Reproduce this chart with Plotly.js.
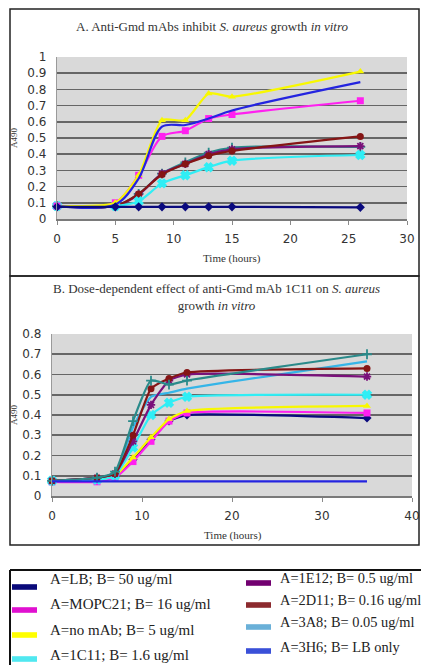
<!DOCTYPE html>
<html>
<head>
<meta charset="utf-8">
<script src="https://cdn.plot.ly/plotly-3.0.1.min.js"></script>
<style>
html,body{margin:0;padding:0;background:#fff;}
#chart{width:421px;height:665px;}
</style>
</head>
<body>
<div id="chart"></div>
<script>
// ---------- DATA ----------
const hoursA = [0, 5, 7, 9, 11, 13, 15, 26];
const hoursB = [0, 5, 7, 9, 11, 13, 15, 35];

// Panel A (antibody, A490)
const aLB      = [0.075, 0.075, 0.075, 0.075, 0.075, 0.075, 0.075, 0.072];
const aMOPC21  = [0.08, 0.10, 0.27, 0.51, 0.545, 0.62, 0.645, 0.73];
const aNoMAb   = [0.08, 0.10, 0.27, 0.61, 0.61, 0.775, 0.755, 0.91];
const a1C11    = [0.08, 0.08, 0.11, 0.22, 0.27, 0.32, 0.36, 0.395];
const a1E12    = [0.08, 0.08, 0.15, 0.28, 0.34, 0.40, 0.43, 0.45];
const a2D11    = [0.08, 0.08, 0.155, 0.275, 0.34, 0.39, 0.42, 0.51];
const a3A8     = [0.08, 0.08, 0.155, 0.28, 0.35, 0.41, 0.44, 0.445];
const a3H6     = [0.08, 0.09, 0.25, 0.57, 0.58, 0.62, 0.67, 0.845];

// Panel B (1C11 dose, A490)
const b50      = [0.075, 0.08, 0.10, 0.18, 0.28, 0.37, 0.40, 0.385];
const b16      = [0.07, 0.07, 0.09, 0.17, 0.27, 0.37, 0.41, 0.41];
const b5       = [0.075, 0.08, 0.10, 0.19, 0.29, 0.38, 0.42, 0.445];
const b1_6     = [0.075, 0.08, 0.10, 0.24, 0.40, 0.46, 0.49, 0.50];
const b0_5     = [0.075, 0.09, 0.11, 0.27, 0.45, 0.57, 0.60, 0.59];
const b0_16    = [0.075, 0.09, 0.11, 0.30, 0.53, 0.58, 0.61, 0.63];
const bExtra   = [0.075, 0.09, 0.12, 0.37, 0.57, 0.55, 0.57, 0.70];
const b0_05    = [0.075, 0.09, 0.11, 0.34, 0.49, 0.51, 0.53, 0.665];
const bLBonly  = [0.072, 0.072, 0.072, 0.072, 0.072, 0.072, 0.072, 0.072];

// Legend labels
const legendCol1 = ["A=LB; B= 50 ug/ml", "A=MOPC21; B= 16 ug/ml", "A=no mAb; B= 5 ug/ml", "A=1C11; B= 1.6 ug/ml"];
const legendCol2 = ["A=1E12; B= 0.5 ug/ml", "A=2D11; B= 0.16 ug/ml", "A=3A8; B= 0.05 ug/ml", "A=3H6; B= LB only"];

// ---------- STYLES ----------
const C = {
  navy: '#0a0a7e', magenta: '#ff20f0', yellow: '#f8f800', cyan: '#30eef5',
  purple: '#7a107a', brown: '#851515', teal: '#2a8a8a', blue: '#2424e0', sky: '#35b5e8'
};
const legColors1 = ['#0a0a7a', '#e010d0', '#ffff00', '#50e8f0'];
const legColors2 = ['#720070', '#8c2a2e', '#6ab0d8', '#3a50d8'];

function tr(x, y, name, color, symbol, xa, ya, smooth, extra) {
  const t = {
    x: x, y: y, name: name, type: 'scatter',
    mode: symbol ? 'lines+markers' : 'lines',
    xaxis: xa, yaxis: ya,
    line: {color: color, width: 2.2, shape: 'spline', smoothing: smooth},
    cliponaxis: false, showlegend: false, hoverinfo: 'skip'
  };
  if (symbol) {
    t.marker = {symbol: symbol, size: 7, color: color, line: {color: color, width: (symbol.indexOf('open') >= 0 || symbol === 'x') ? 1.8 : 0}};
  }
  return Object.assign(t, extra || {});
}

const data = [
  // Panel A
  tr(hoursA, a3A8, 'A=3A8', C.teal, 'cross-thin-open', 'x', 'y', 0.8),
  tr(hoursA, a1E12, 'A=1E12', C.purple, 'asterisk-open', 'x', 'y', 0.8),
  tr(hoursA, a2D11, 'A=2D11', C.brown, 'circle', 'x', 'y', 0.8),
  tr(hoursA, a1C11, 'A=1C11', C.cyan, 'x', 'x', 'y', 0.8),
  tr(hoursA, aMOPC21, 'A=MOPC21', C.magenta, 'square', 'x', 'y', 0.8),
  tr(hoursA, aNoMAb, 'A=no mAb', C.yellow, 'triangle-up', 'x', 'y', 0.6),
  tr(hoursA, a3H6, 'A=3H6', C.blue, null, 'x', 'y', 0.9),
  tr(hoursA, aLB, 'A=LB', C.navy, 'diamond', 'x', 'y', 0.8),
  // Panel B
  tr(hoursB, b50, 'B= 50 ug/ml', C.navy, 'diamond', 'x2', 'y2', 0.5),
  tr(hoursB, b16, 'B= 16 ug/ml', C.magenta, 'square', 'x2', 'y2', 0.5),
  tr(hoursB, b5, 'B= 5 ug/ml', C.yellow, 'triangle-up', 'x2', 'y2', 0.5),
  tr(hoursB, b1_6, 'B= 1.6 ug/ml', C.cyan, 'x', 'x2', 'y2', 0.5),
  tr(hoursB, b0_05, 'B= 0.05 ug/ml', C.sky, null, 'x2', 'y2', 0.5),
  tr(hoursB, b0_5, 'B= 0.5 ug/ml', C.purple, 'asterisk-open', 'x2', 'y2', 0.5),
  tr(hoursB, b0_16, 'B= 0.16 ug/ml', C.brown, 'circle', 'x2', 'y2', 0.5),
  tr(hoursB, bExtra, 'B extra', C.teal, 'cross-thin-open', 'x2', 'y2', 0.5),
  tr(hoursB, bLBonly, 'B= LB only', C.blue, null, 'x2', 'y2', 0.5)
];

// ---------- LAYOUT ----------
const W = 421, H = 665;
const px = v => v / W;
const py = v => 1 - v / H;

const tickFont = {family: 'DejaVu Sans, Verdana, sans-serif', size: 12, color: '#333'};
const serif = 'Liberation Serif, Times New Roman, serif';

function xAx(domain, range, dtick) {
  return {domain: domain, range: range, dtick: dtick, tick0: 0, showgrid: false, zeroline: false,
    showline: true, linecolor: '#7a7a7a', linewidth: 1.5, ticks: 'outside', ticklen: 4,
    tickcolor: '#8a8a8a', tickfont: tickFont, ticklabelstandoff: 4, fixedrange: true};
}
function yAx(domain, range) {
  return {domain: domain, range: range, dtick: 0.1, tick0: 0, showgrid: true, gridcolor: '#666666',
    gridwidth: 1.6, zeroline: false, showline: true, linecolor: '#9a9a9a', linewidth: 1.2,
    ticks: '', tickfont: tickFont, ticklabelstandoff: 7, fixedrange: true};
}

const shapes = [
  // panel frames
  {type: 'rect', xref: 'paper', yref: 'paper', x0: px(10), x1: px(419), y0: py(276), y1: py(9), line: {color: '#222', width: 1.5}},
  {type: 'rect', xref: 'paper', yref: 'paper', x0: px(10), x1: px(419), y0: py(545), y1: py(276), line: {color: '#222', width: 1.5}},
  // legend box (top and left edges)
  {type: 'line', xref: 'paper', yref: 'paper', x0: px(10), x1: px(421), y0: py(570), y1: py(570), line: {color: '#111', width: 2}},
  {type: 'line', xref: 'paper', yref: 'paper', x0: px(10), x1: px(10), y0: py(570), y1: py(665), line: {color: '#111', width: 2}}
];

const annotations = [
  {text: 'A. Anti-Gmd mAbs inhibit <i>S. aureus</i> growth <i>in vitro</i>', x: px(212), y: py(26)},
  {text: 'B. Dose-dependent effect of anti-Gmd mAb 1C11 on <i>S. aureus</i><br>growth <i>in vitro</i>', x: px(216), y: py(297)}
].map(a => Object.assign({xref: 'paper', yref: 'paper', xanchor: 'center', yanchor: 'middle', showarrow: false,
  align: 'center', font: {family: serif, size: 13, color: '#333'}}, a));

annotations.push(
  {text: 'Time (hours)', x: px(232), y: py(258)},
  {text: 'Time (hours)', x: px(233), y: py(535)}
);
for (let i = annotations.length - 2; i < annotations.length; i++) {
  Object.assign(annotations[i], {xref: 'paper', yref: 'paper', xanchor: 'center', yanchor: 'middle', showarrow: false,
    font: {family: serif, size: 11, color: '#333'}});
}
[[py(138)], [py(415)]].forEach(([yy]) => annotations.push({
  text: 'A490', x: px(14), y: yy, xref: 'paper', yref: 'paper', xanchor: 'center', yanchor: 'middle',
  showarrow: false, textangle: -90, font: {family: serif, size: 9, color: '#333'}
}));

// legend (built from label arrays)
const col1TextY = [579, 604, 630, 655], col1BarY = [587, 610, 635, 659];
const col2TextY = [578, 600, 622, 647], col2BarY = [583, 605, 627, 651];
function addLegendColumn(labels, colors, barX0, barX1, textX, textY, barY, fsize) {
  labels.forEach((lab, i) => {
    shapes.push({type: 'rect', xref: 'paper', yref: 'paper', x0: px(barX0), x1: px(barX1),
      y0: py(barY[i] + 2.8), y1: py(barY[i] - 2.8), fillcolor: colors[i], line: {width: 0}});
    annotations.push({text: lab, x: px(textX), y: py(textY[i]), xref: 'paper', yref: 'paper',
      xanchor: 'left', yanchor: 'middle', showarrow: false,
      font: {family: serif, size: fsize, color: '#222'}});
  });
}
addLegendColumn(legendCol1, legColors1, 12, 37, 48, col1TextY, col1BarY, 15);
addLegendColumn(legendCol2, legColors2, 246, 271, 278, col2TextY, col2BarY, 14.4);

const layout = {
  width: W, height: H, margin: {l: 0, r: 0, t: 0, b: 0},
  paper_bgcolor: '#ffffff', plot_bgcolor: '#d9d9d9', showlegend: false,
  xaxis: xAx([57 / W, 407 / W], [0, 30], 5),
  yaxis: yAx([py(219), py(57)], [0, 1]),
  xaxis2: xAx([52 / W, 412 / W], [0, 40], 10),
  yaxis2: yAx([py(496), py(334)], [0, 0.8]),
  shapes: shapes, annotations: annotations
};
layout.xaxis2.anchor = 'y2';
layout.yaxis2.anchor = 'x2';

Plotly.newPlot('chart', data, layout, {displayModeBar: false, staticPlot: true});
</script>
</body>
</html>
